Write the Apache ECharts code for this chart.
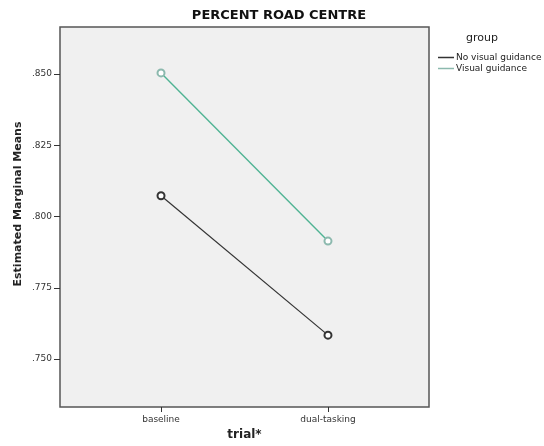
<!DOCTYPE html>
<html>
<head>
<meta charset="utf-8">
<script src="https://cdn.jsdelivr.net/npm/echarts@6/dist/echarts.min.js"></script>
<style>html,body{margin:0;padding:0;background:#fff;}#c{width:544px;height:446px;}</style>
</head>
<body>
<div id="c"></div>
<script>
var categories = ['baseline', 'dual-tasking'];
var groups = ['No visual guidance', 'Visual guidance'];
var noVisual = [0.8073, 0.7584];
var visual = [0.8504, 0.7914];
var yTicks = [0.750, 0.775, 0.800, 0.825, 0.850];

var chart = echarts.init(document.getElementById('c'), null, {renderer: 'canvas'});
var font = 'DejaVu Sans';
function toPairs(arr){ return arr.map(function(v,i){ return [i, v]; }); }
chart.setOption({
  backgroundColor: '#fff',
  animation: false,
  title: {
    text: 'PERCENT ROAD CENTRE', left: 274, top: 4, textAlign: 'center',
    textStyle: {fontFamily: font, fontSize: 13, fontWeight: 'bold', color: '#111'}
  },
  grid: {left: 60, right: 115, top: 27, bottom: 39, outerBoundsMode: 'none', containLabel: false,
    show: true, backgroundColor: '#f0f0f0', borderColor: '#555', borderWidth: 1.5},
  graphic: [
    {type: 'text', left: 466, top: 33, style: {text: 'group', fontFamily: font, fontSize: 11, fill: '#222'}},
    {type: 'text', x: 18, y: 204, rotation: Math.PI / 2,
      style: {text: 'Estimated Marginal Means', fontFamily: font, fontSize: 11, fontWeight: 'bold', fill: '#222', align: 'center', verticalAlign: 'middle'}}
  ],
  legend: {
    orient: 'vertical', left: 433, top: 48, itemGap: 2, itemWidth: 16, itemHeight: 1.5, icon: 'rect',
    data: groups,
    textStyle: {fontFamily: font, fontSize: 9, color: '#222', padding: [0,0,0,-3]}
  },
  xAxis: {
    type: 'value', min: -0.605, max: 1.605,
    name: 'trial*', nameLocation: 'middle', nameGap: 21,
    nameTextStyle: {fontFamily: font, fontSize: 12, fontWeight: 'bold', color: '#222'},
    axisLine: {show: false, onZero: false},
    splitLine: {show: false},
    axisTick: {show: true, customValues: [0, 1], length: 5, lineStyle: {color: '#333'}},
    axisLabel: {customValues: [0, 1], fontFamily: font, fontSize: 9, color: '#333', margin: 8,
      formatter: function(v){ return categories[Math.round(v)] || ''; }}
  },
  yAxis: {
    type: 'value', min: 0.7332, max: 0.8665,
    axisLine: {show: false, onZero: false},
    splitLine: {show: false},
    axisTick: {show: true, customValues: yTicks, length: 6, lineStyle: {color: '#333'}},
    axisLabel: {customValues: yTicks, fontFamily: font, fontSize: 9, color: '#333', margin: 8,
      formatter: function(v){ return v.toFixed(3).replace(/^0/, ''); }}
  },
  series: [
    {name: groups[0], type: 'line', data: toPairs(noVisual), symbol: 'emptyCircle', symbolSize: 7,
      lineStyle: {color: '#333', width: 1.2}, itemStyle: {color: '#333', borderWidth: 0.8}},
    {name: groups[1], type: 'line', data: toPairs(visual), symbol: 'emptyCircle', symbolSize: 7,
      lineStyle: {color: '#4fb393', width: 1.4}, itemStyle: {color: '#8cb9ae', borderWidth: 0.8}}
  ]
});
</script>
</body>
</html>
